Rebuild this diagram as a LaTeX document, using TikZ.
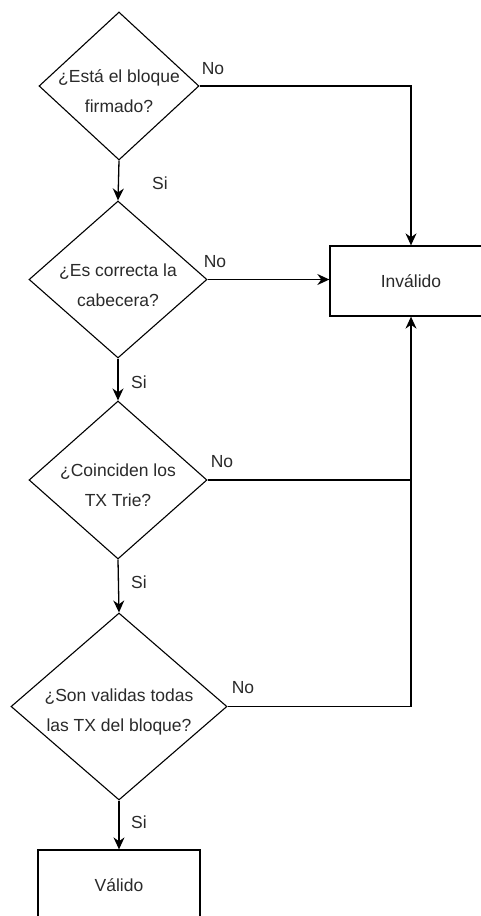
\documentclass[tikz,border=0pt]{standalone}
\usepackage{fontspec}
\setmainfont{Liberation Sans}
\usetikzlibrary{shapes.geometric,arrows.meta}
\definecolor{txtc}{HTML}{2A2A2A}
\begin{document}
\begin{tikzpicture}[x=1pt,y=-1pt,
  decision/.style={diamond,draw=black,line width=1.1pt,inner sep=0pt,aspect=1},
  process/.style={rectangle,draw=black,line width=1.3pt,inner sep=0pt,minimum width=162pt,minimum height=70pt,font=\fontsize{17.5}{30}\selectfont,text=txtc},
  qtext/.style={align=center,inner sep=0pt,font=\fontsize{17.5}{30}\selectfont,text=txtc},
  lbl/.style={inner sep=0pt,font=\fontsize{17.5}{20}\selectfont,text=txtc},
  conn/.style={draw=black,line width=1.3pt},
  arr/.style={conn,-{Stealth[length=12pt,width=11pt]}}]
\useasboundingbox (0,0) rectangle (481,916);
\clip (0,0) rectangle (481,916);
\fill[white] (0,0) rectangle (481,916);
% decisions
\node[decision,minimum width=160pt,minimum height=148pt] (d1) at (119,86) {};
\node[qtext] (t1) at (119,91) {¿Está el bloque\\firmado?};
\node[decision,minimum width=178pt,minimum height=157pt] (d2) at (118,279.5) {};
\node[qtext] (t2) at (118,285) {¿Es correcta la\\cabecera?};
\node[decision,minimum width=178pt,minimum height=158pt] (d3) at (118,480) {};
\node[qtext] (t3) at (118,485) {¿Coinciden los\\TX Trie?};
\node[decision,minimum width=216pt,minimum height=187pt] (d4) at (119,706.5) {};
\node[qtext] (t4) at (119,711.5) {¿Son validas todas\\las TX del bloque?};
% boxes
\node[process] (inv) at (411,281) {Inválido};
\node[process] (val) at (119,885) {Válido};
% connectors
\draw[arr] (d1.south) -- (d2.north);
\draw[arr] (d2.south) -- (d3.north);
\draw[arr] (d3.south) -- (d4.north);
\draw[arr] (d4.south) -- (val.north);
\draw[arr] (d1.east) -| (inv.north);
\draw[arr] (d2.east) -- (d2.east -| inv.west);
\draw[arr] (d4.east) -| (inv.south);
\coordinate (j3) at (d3.east -| inv.south);
\draw[conn] (d3.east) -- (j3);
% labels
\node[lbl] (s1) at (160,183) {Si};
\node[lbl] (s2) at (139,382) {Si};
\node[lbl] (s3) at (139,582) {Si};
\node[lbl] (s4) at (139,822) {Si};
\node[lbl] (n1) at (213,69) {No};
\node[lbl] (n2) at (215,262) {No};
\node[lbl] (n3) at (222,462) {No};
\node[lbl] (n4) at (243,688) {No};
\end{tikzpicture}
\end{document}
